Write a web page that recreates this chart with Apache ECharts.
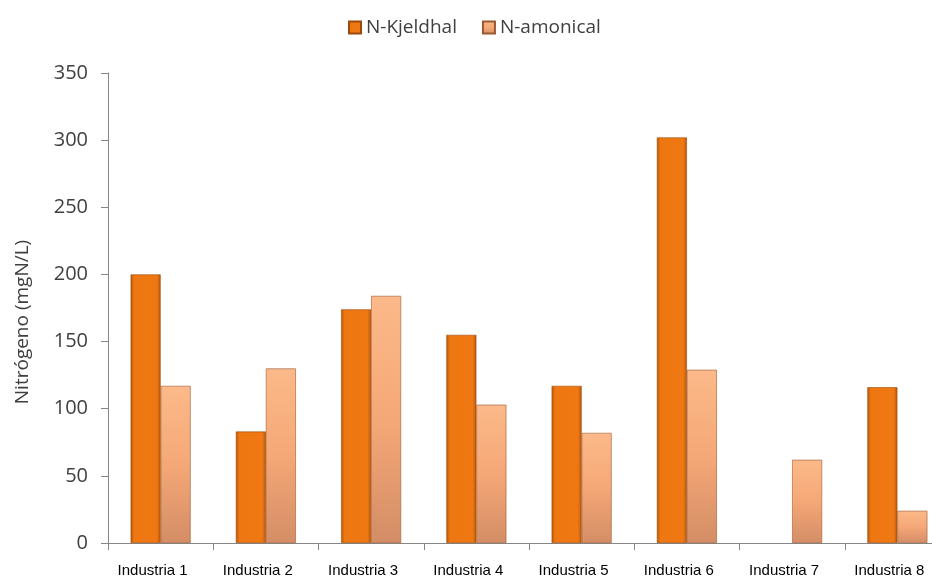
<!DOCTYPE html>
<html>
<head>
<meta charset="utf-8">
<script src="https://cdn.jsdelivr.net/npm/echarts@6/dist/echarts.min.js"></script>
<style>html,body{margin:0;padding:0;background:#fff;overflow:hidden;width:932px;height:585px}#c{width:950px;height:585px}</style>
</head>
<body>
<div id="c"></div>
<script>
const categories = ['Industria 1','Industria 2','Industria 3','Industria 4','Industria 5','Industria 6','Industria 7','Industria 8'];
const kjeldhal = [200, 83, 174, 155, 117, 302, null, 116];
const amonical = [117, 130, 184, 103, 82, 129, 62, 24];
const yTicks = { min: 0, max: 350, interval: 50 };

const chart = echarts.init(document.getElementById('c'));
const kColor = new echarts.graphic.LinearGradient(0,0,1,0,[
  {offset:0,color:'#B9570B'},{offset:0.12,color:'#EE7712'},{offset:0.88,color:'#F07812'},{offset:1,color:'#B45409'}]);
const aColor = new echarts.graphic.LinearGradient(0,0,0,1,[
  {offset:0,color:'#FCB989'},{offset:0.5,color:'#F5A877'},{offset:1,color:'#D48D66'}]);
chart.setOption({
  animation:false,
  legend:{
    top:13, left:343, itemWidth:12, itemHeight:12, itemGap:25,
    icon:'rect',
    textStyle:{fontFamily:'Open Sans', fontSize:19, color:'#404040'},
    data:['N-Kjeldhal','N-amonical']
  },
  grid:{left:108, top:73, right:0, bottom:42, containLabel:false},
  xAxis:{
    type:'category', data:categories,
    axisLine:{lineStyle:{color:'#868686'}},
    axisTick:{show:true, length:7, lineStyle:{color:'#868686'}},
    axisLabel:{fontFamily:'Liberation Sans', fontSize:15, color:'#000', margin:20, padding:[0,16,0,0]}
  },
  yAxis:{
    type:'value', min:yTicks.min, max:yTicks.max, interval:yTicks.interval,
    name:'Nitrógeno (mgN/L)', nameLocation:'middle', nameGap:76, nameRotate:90,
    nameTextStyle:{fontFamily:'Open Sans', fontSize:19, color:'#404040', padding:[0,28,0,0]},
    axisLine:{show:true, lineStyle:{color:'#868686'}},
    axisTick:{show:true, length:7, lineStyle:{color:'#868686'}},
    splitLine:{show:false},
    axisLabel:{fontFamily:'Open Sans', fontSize:20, color:'#404040', margin:20}
  },
  series:[
    {name:'N-Kjeldhal', type:'bar', data:kjeldhal, barWidth:30, barGap:'0%',
     itemStyle:{color:kColor, borderColor:'#9A4A0C', borderWidth:0.6}},
    {name:'N-amonical', type:'bar', data:amonical, barWidth:30, barGap:'0%',
     itemStyle:{color:aColor, borderColor:'#9A5A30', borderWidth:0.6}}
  ]
});
</script>
</body>
</html>
